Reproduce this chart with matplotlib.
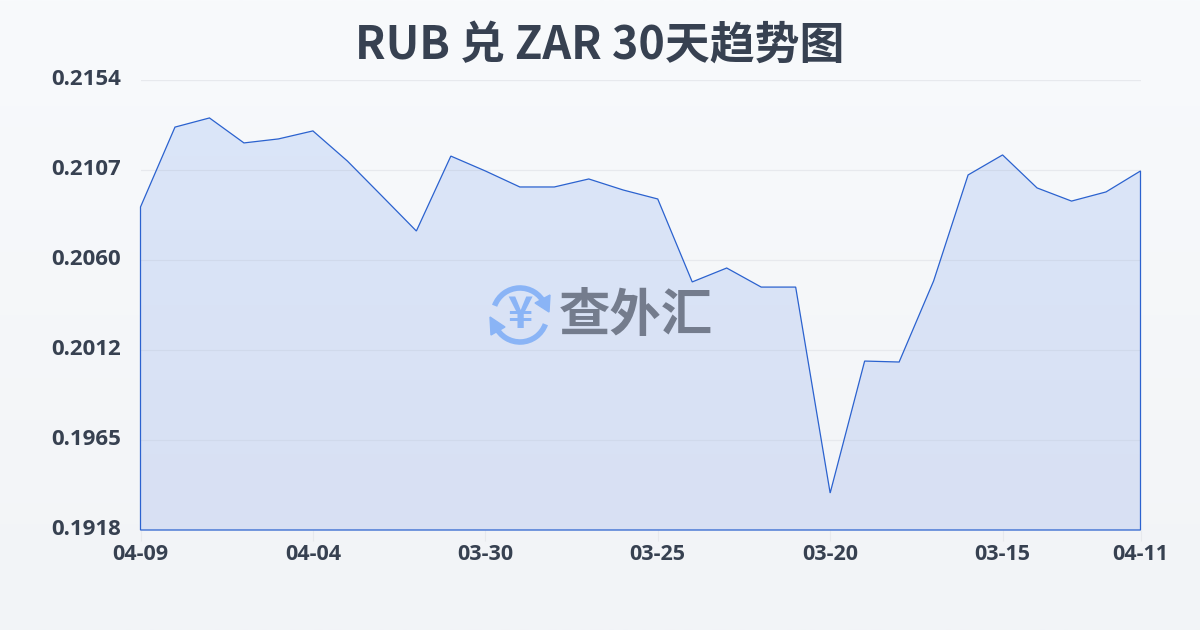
import numpy as np
import matplotlib
matplotlib.use("Agg")
import matplotlib.pyplot as plt
from matplotlib.colors import LinearSegmentedColormap
from matplotlib.patches import Arc, Polygon
from matplotlib.transforms import ScaledTranslation

plt.rcParams['font.family'] = ['Noto Sans CJK SC', 'DejaVu Sans']

title = "RUB 兑 ZAR 30天趋势图"
rates = [0.20874, 0.21293, 0.21341, 0.21210, 0.21231, 0.21273, 0.21115, 0.20932,
         0.20748, 0.21141, 0.21063, 0.20979, 0.20979, 0.21021, 0.20963, 0.20916,
         0.20481, 0.20554, 0.20454, 0.20454, 0.19374, 0.20066, 0.20061, 0.20486,
         0.21042, 0.21147, 0.20974, 0.20905, 0.20953, 0.21063]
y_ticks = [0.1918, 0.19652, 0.20124, 0.20596, 0.21068, 0.2154]
y_labels = ["0.1918", "0.1965", "0.2012", "0.2060", "0.2107", "0.2154"]
x_ticks = [0, 5, 10, 15, 20, 25, 29]
x_labels = ["04-09", "04-04", "03-30", "03-25", "03-20", "03-15", "04-11"]

TEXT = "#374151"
LINE = "#2b62cf"

fig = plt.figure(figsize=(12, 6.3), dpi=100)

# page background, light vertical gradient
bg = fig.add_axes([0, 0, 1, 1], zorder=0)
bg_cmap = LinearSegmentedColormap.from_list("bg", ["#f8fafc", "#f2f4f7"])
bg.imshow(np.linspace(0, 1, 256).reshape(-1, 1), cmap=bg_cmap, aspect="auto")
bg.axis("off")

ax = fig.add_axes([140.5 / 1200, 100 / 630, 1000 / 1200, 450 / 630], zorder=1)
ax.patch.set_alpha(0)
ax.set_xlim(0, 29)
ax.set_ylim(y_ticks[0], y_ticks[-1])

# grid goes under the fill
ax.set_axisbelow(True)
ax.grid(axis="y", color="#e7e9ed", lw=0.9)

# area fill with its gradient, clipped to the series outline
xs = np.arange(len(rates))
outline = list(zip(xs, rates)) + [(29, y_ticks[0]), (0, y_ticks[0])]
fill_cmap = LinearSegmentedColormap.from_list("fill", ["#dbe6f9", "#d8e0f3"])
im = ax.imshow(np.linspace(0, 1, 256).reshape(-1, 1), cmap=fill_cmap, aspect="auto",
               extent=[0, 29, y_ticks[0], y_ticks[-1]], zorder=1.5)
poly = Polygon(outline, closed=True, fc="none", ec=LINE, lw=0.9, zorder=3, clip_on=False)
ax.add_patch(poly)
im.set_clip_path(poly)
ax.set_xlim(0, 29)
ax.set_ylim(y_ticks[0], y_ticks[-1])

# gridlines show faintly through the area
for v in y_ticks[1:-1]:
    ln = ax.axhline(v, color="#d0d9eb", lw=0.8, zorder=2)
    ln.set_clip_path(poly)

for s in ax.spines.values():
    s.set_visible(False)

ax.set_xticks(x_ticks)
ax.set_xticklabels(x_labels, fontsize=15.5, fontweight="bold", color=TEXT, family=['Open Sans', 'DejaVu Sans'])
ax.set_yticks(y_ticks)
ax.set_yticklabels(y_labels, fontsize=16, fontweight="bold", color=TEXT, family=['Open Sans', 'DejaVu Sans'],
                   va="center")
ax.tick_params(axis="x", length=8, width=0.8, color="#e7e9ed", pad=2)
ax.tick_params(axis="y", length=0, pad=14)
for lab in ax.get_yticklabels():
    lab.set_transform(lab.get_transform() + ScaledTranslation(0, 0.7 / 72, fig.dpi_scale_trans))

# overlay in pixel coordinates for title and watermark
top = fig.add_axes([0, 0, 1, 1], zorder=2)
top.set_xlim(0, 1200)
top.set_ylim(630, 0)
top.axis("off")
top.text(600, 46, title, ha="center", va="center", fontsize=32.3, fontweight="bold", color=TEXT)

LOGO = "#8ab4f6"
top.add_patch(Arc((520, 315), 54, 54, theta1=200, theta2=335, color=LOGO, lw=4))
top.add_patch(Arc((520, 315), 54, 54, theta1=20, theta2=155, color=LOGO, lw=4))
top.add_patch(Polygon([(550, 295), (549, 312), (535, 303)], color=LOGO))
top.add_patch(Polygon([(491, 335), (490, 317), (505, 327)], color=LOGO))
top.text(520, 315, "¥", ha="center", va="center", fontsize=31, fontweight="bold", color=LOGO)
top.text(636, 316, "查外汇", ha="center", va="center", fontsize=37, fontweight="bold", color="#747c8d")

fig.savefig("out.png", dpi=100)
